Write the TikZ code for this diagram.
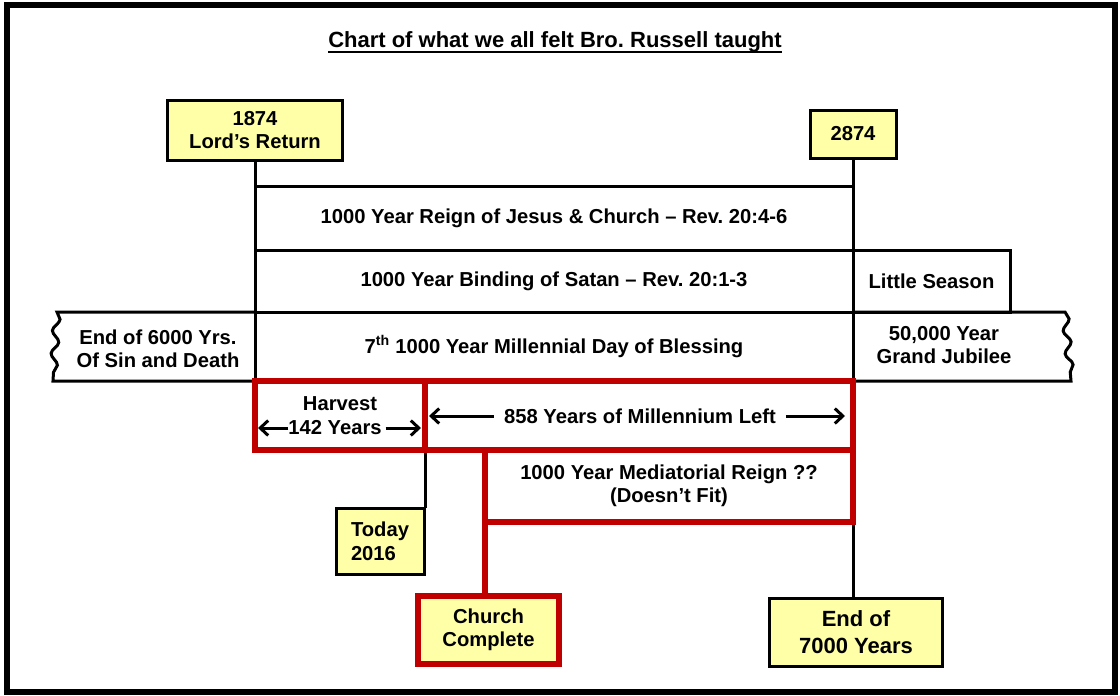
\documentclass[tikz,border=0pt]{standalone}
\usepackage{fontspec}
\setmainfont{Liberation Sans}
\frenchspacing
\usetikzlibrary{positioning, arrows.meta, decorations.pathmorphing}
\definecolor{chartyellow}{HTML}{FFFFA8}
\definecolor{chartred}{HTML}{C00000}

\tikzset{
  every node/.style={font=\bfseries\fontsize{20.2}{23.5}\selectfont, inner sep=0pt, outer sep=0pt},
  yearbox/.style={draw, line width=3pt, fill=chartyellow, align=center},
  band/.style={draw, line width=3pt, align=center},
  redbox/.style={draw=chartred, line width=6pt, align=center},
  conn/.style={line width=3pt},
  redconn/.style={draw=chartred, line width=6pt},
  span/.style={line width=3pt, -{Straight Barb[length=8pt,width=15pt]}},
  wavy/.style={decorate, decoration={snake, amplitude=3.5pt, segment length=23pt}}
}

\begin{document}
\begin{tikzpicture}[x=1pt, y=-1pt]

      \useasboundingbox (0,0) rectangle (1120,696);
      \draw[line width=6pt] (6.5,4.5) rectangle (1115,692);

      \node[font=\bfseries\fontsize{22}{25}\selectfont] (title) at (555,42) {Chart of what we all felt Bro. Russell taught};
      \draw[line width=2pt] ([yshift=-4pt]title.base west) -- ([yshift=-4pt]title.base east);

      \node[yearbox, minimum width=175pt, minimum height=60pt] (lord) at (255,130) {1874\\Lord’s Return};
      \node[yearbox, minimum width=86pt, minimum height=48pt] (y2874) at (853,134) {2874};

      \node[band, minimum width=598pt, minimum height=64pt] (reign) at (554,218) {1000 Year Reign of Jesus \& Church -- Rev. 20:4-6};
      \node[band, minimum width=598pt, minimum height=62pt] (binding) at (554,281) {1000 Year Binding of Satan -- Rev. 20:1-3};
      \node[band, minimum width=157pt, minimum height=62pt] (season) at (931.5,281) {Little Season};
      \node[band, minimum width=598pt, minimum height=69pt] (blessing) at (554,346.5) {7\textsuperscript{th} 1000 Year Millennial Day of Blessing};

      \coordinate (waveTL) at (57,312);
      \coordinate (waveBL) at (53,381);
      \coordinate (waveTR) at (1065,312);
      \coordinate (waveBR) at (1071,381);
      \draw[conn] (blessing.north west) -- (waveTL) decorate[wavy] {-- (waveBL)} -- (blessing.south west);
      \draw[conn] (blessing.north east) -- (waveTR) decorate[wavy] {-- (waveBR)} -- (blessing.south east);
      \node[align=center] (sixk) at (158,349) {End of 6000 Yrs.\\Of Sin and Death};
      \node[align=center] (jubilee) at (944,345) {50,000 Year\\Grand Jubilee};

      \draw[conn] (lord.south) -- (blessing.south west);
      \draw[conn] (y2874.south) -- (y2874.south |- 0,598);

      \node[yearbox, minimum width=88pt, minimum height=66pt, align=left] (today) at (380,541.5) {Today\\2016};
      \node[yearbox, minimum width=173pt, minimum height=68pt, font=\bfseries\fontsize{22}{27}\selectfont] (end7000) at (856,632.5) {End of\\7000 Years};
      \draw[conn] (425,450) -- (425,508);

      \node[redbox, minimum width=170pt, minimum height=69pt] (harvest) at (340,415.5) {};
      \node[redbox, minimum width=428pt, minimum height=69pt] (leftover) at (639,415.5) {};
      \node[redbox, minimum width=368pt, minimum height=72pt] (mediator) at (669,486) {1000 Year Mediatorial Reign ??\\(Doesn’t Fit)};
      \node[redbox, fill=chartyellow, minimum width=141pt, minimum height=68pt] (church) at (488.5,630) {Church\\Complete};
      \draw[redconn] (mediator.south west) -- (mediator.south west |- church.north);

      \node (harvtitle) at (340,404) {Harvest};
      \node (harvyears) at (335,428) {142 Years};
      \draw[span] (harvyears.west) -- ([xshift=3pt]harvest.west |- harvyears);
      \draw[span] ([xshift=4pt]harvyears.east) -- ([xshift=-4pt]harvest.east |- harvyears);

      \node (lefttext) at (640,416) {858 Years of Millennium Left};
      \draw[span] ([xshift=-10pt]lefttext.west) -- ([xshift=4pt]leftover.west |- lefttext);
      \draw[span] ([xshift=10pt]lefttext.east) -- ([xshift=-8pt]leftover.east |- lefttext);

    \end{tikzpicture}
\end{document}
